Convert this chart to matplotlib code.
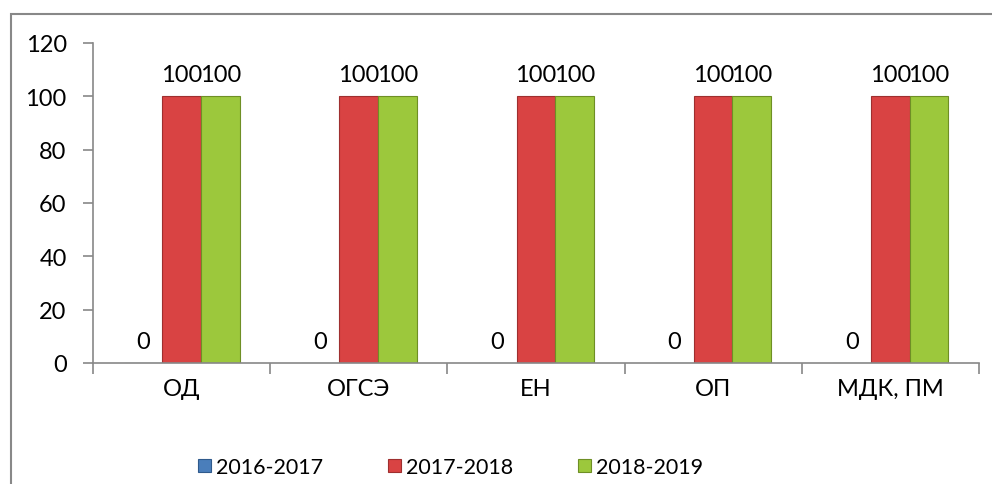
import matplotlib.pyplot as plt
import numpy as np
from matplotlib.patches import Rectangle

plt.rcParams['font.family'] = ['Lato', 'DejaVu Sans']

categories = ['ОД', 'ОГСЭ', 'ЕН', 'ОП', 'МДК, ПМ']
years = ['2016-2017', '2017-2018', '2018-2019']
v_2016 = [0, 0, 0, 0, 0]
v_2017 = [100, 100, 100, 100, 100]
v_2018 = [100, 100, 100, 100, 100]
y_ticks = [0, 20, 40, 60, 80, 100, 120]

colors = ['#4A7EBB', '#D94343', '#9CC83C']
edges = ['#2F5A8C', '#9E2F2F', '#6E8F25']

fig = plt.figure(figsize=(9.92, 4.85), dpi=100)
ax = fig.add_axes([0.0938, 0.2495, 0.893, 0.66])

x = np.arange(len(categories))
w = 0.218
for i, (vals, lab) in enumerate(zip([v_2016, v_2017, v_2018], years)):
    bars = ax.bar(x + (i - 1) * w, vals, w, color=colors[i], edgecolor=edges[i],
                  linewidth=0.8, label=lab)
    ax.bar_label(bars, padding=8, fontsize=17)

ax.set_xlim(-0.5, len(categories) - 0.5)
ax.set_ylim(0, 120)
ax.set_yticks(y_ticks)
ax.set_xticks(x)
ax.set_xticklabels(categories)
ax.set_xticks(np.arange(len(categories) + 1) - 0.5, minor=True)
ax.tick_params(axis='x', which='major', length=0, pad=11, labelsize=17)
ax.tick_params(axis='x', which='minor', length=8, color='#888888', width=1.2)
ax.tick_params(axis='y', length=7, color='#888888', width=1.2, labelsize=17, pad=12)

for s in ['top', 'right']:
    ax.spines[s].set_visible(False)
for s in ['left', 'bottom']:
    ax.spines[s].set_color('#888888')
    ax.spines[s].set_linewidth(1.2)

leg = fig.legend(loc='center', bbox_to_anchor=(0.454, 0.035), ncol=3, frameon=False,
                 fontsize=15.5, handlelength=0.6, handleheight=0.6, handletextpad=0.25,
                 columnspacing=3.0)

# chart frame
fig.patches.append(Rectangle((11 / 992, -0.1), 1.2, 1 - 15 / 485 + 0.1,
                             transform=fig.transFigure, fill=False,
                             edgecolor='#888888', linewidth=1.5))

fig.savefig('out.png', dpi=100)
